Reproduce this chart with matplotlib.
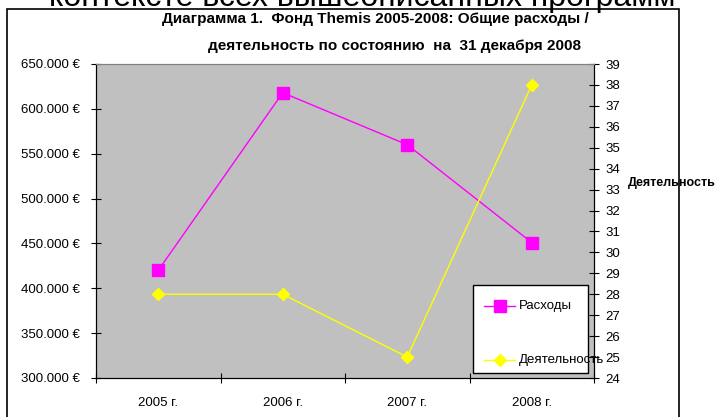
import matplotlib.pyplot as plt
from matplotlib.patches import Rectangle
from matplotlib.lines import Line2D
from matplotlib.ticker import FuncFormatter

plt.rcParams['font.family'] = ['Liberation Sans', 'DejaVu Sans']

# data
years = ['2005 г.', '2006 г.', '2007 г.', '2008 г.']
expenses = [420000, 618000, 560000, 451000]
activity = [28, 28, 25, 38]

W, H = 719, 417
fig = plt.figure(figsize=(W / 100, H / 100), dpi=100)

def px(x, y):
    # pixel coords (from top-left) -> figure fraction
    return x / W, 1 - y / H

# page text cut at top
fig.text(362 / W, 1 - 6 / H, 'контексте всех вышеописанных программ',
         fontsize=23, ha='center', va='baseline')

# outer chart frame
fig.patches.append(Rectangle(px(7, 440), (679 - 7) / W, (440 - 9) / H,
                             transform=fig.transFigure, fill=False,
                             edgecolor='black', linewidth=1.2))

# title
fig.text(375 / W, 1 - 19 / H, 'Диаграмма 1.  Фонд Themis 2005-2008: Общие расходы /',
         fontsize=11, fontweight='bold', ha='center', va='center')
fig.text(395 / W, 1 - 46 / H, 'деятельность по состоянию  на  31 декабря 2008',
         fontsize=11, fontweight='bold', ha='center', va='center')

left, right, top, bottom = 96, 594, 64, 378
ax = fig.add_axes([left / W, 1 - bottom / H, (right - left) / W, (bottom - top) / H])
ax.set_facecolor('#C0C0C0')
x = list(range(len(years)))

ax.plot(x, expenses, color='#FF00FF', lw=1, marker='s', ms=8,
        markerfacecolor='#FF00FF', markeredgecolor='#FF00FF', zorder=3)
ax.set_xlim(-0.5, len(years) - 0.5)
ax.set_ylim(300000, 650000)
ax.set_yticks(range(300000, 650001, 50000))
ax.yaxis.set_major_formatter(FuncFormatter(lambda v, p: f'{int(v):,}'.replace(',', '.') + ' €'))
ax.set_xticks([i - 0.5 for i in range(len(years) + 1)])
ax.set_xticklabels([])
ax.set_xticks(x, minor=True)
ax.set_xticklabels(years, minor=True)
ax.tick_params(axis='x', which='minor', length=0, pad=14, labelsize=9.5)
ax.tick_params(axis='x', which='major', direction='inout', length=7)
ax.tick_params(axis='y', direction='inout', length=7, labelsize=9.5, pad=8)

ax2 = ax.twinx()
ax2.plot(x, activity, color='#FFFF00', lw=1, marker='D', ms=6,
         markerfacecolor='#FFFF00', markeredgecolor='#FFFF00', zorder=3)
ax2.set_ylim(24, 39)
ax2.set_yticks(range(24, 40))
ax2.tick_params(axis='y', direction='inout', length=7, labelsize=9.5, pad=5)

for a in (ax, ax2):
    a.spines['top'].set_color('#808080')
    a.spines['left'].set_color('black')
    a.spines['bottom'].set_color('black')
    a.spines['right'].set_color('black')

fig.text(628 / W, 1 - 183 / H, 'Деятельность', fontsize=9, fontweight='bold',
         ha='left', va='center')

# legend box
fig.patches.append(Rectangle(px(473, 373), (588 - 473) / W, (373 - 285) / H,
                             transform=fig.transFigure, facecolor='white',
                             edgecolor='black', linewidth=1, zorder=5))
for yy, name, col, mk, ms in [(306, 'Расходы', '#FF00FF', 's', 8),
                              (360, 'Деятельность', '#FFFF00', 'D', 6)]:
    fig.lines.append(Line2D([484 / W, 515 / W], [1 - yy / H] * 2, transform=fig.transFigure,
                            color=col, lw=1, zorder=6))
    fig.lines.append(Line2D([499.5 / W], [1 - yy / H], transform=fig.transFigure,
                            color=col, marker=mk, ms=ms, zorder=6))
    fig.text(519 / W, 1 - yy / H, name, fontsize=9.5, ha='left', va='center', zorder=7)

fig.savefig('out.png', dpi=100)
